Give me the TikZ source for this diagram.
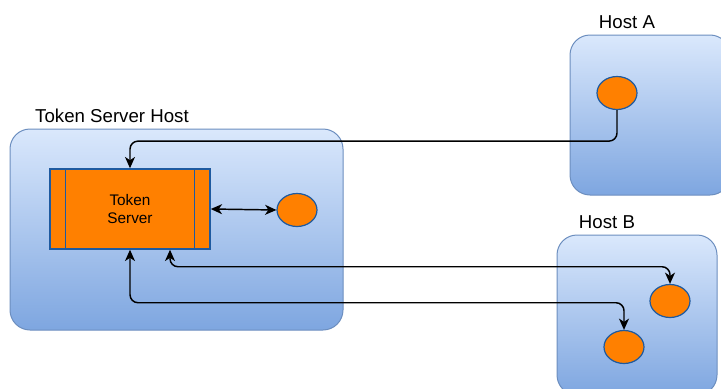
\documentclass[tikz,border=0pt]{standalone}
\usepackage{fontspec}
\setmainfont{Liberation Sans}
\usetikzlibrary{arrows.meta,calc,shapes.geometric}

\definecolor{hosttop}{HTML}{DAE8FC}
\definecolor{hostbottom}{HTML}{7EA6E0}
\definecolor{hostline}{HTML}{6C8EBF}
\definecolor{procfill}{HTML}{FF8000}
\definecolor{procline}{HTML}{1E5AA0}

\begin{document}
\begin{tikzpicture}[x=0.75pt,y=-0.75pt,>={Stealth[length=8.5pt,width=7.5pt,inset=2.5pt]},
  host/.style={draw=hostline,line width=0.75pt,rounded corners=15pt,
    top color=hosttop,bottom color=hostbottom,inner sep=0pt},
  hostlabel/.style={font=\fontsize{14}{16}\selectfont},
  proc/.style={draw=procline,fill=procfill,line width=1.1pt,minimum width=120pt,
    minimum height=60pt,inner sep=0pt,align=center,
    font=\fontsize{11.5}{13.5}\selectfont},
  task/.style={ellipse,draw=procline,fill=procfill,line width=0.9pt,
    minimum width=30pt,minimum height=24.75pt,inner sep=0pt},
  link/.style={line width=1.1pt,rounded corners=6pt}]
  \clip (0,0) rectangle (721,389);

  % hosts
  \node[host,minimum width=249.75pt,minimum height=150.75pt] (tsh) at (176.5,229.5) {};
  \node[host,minimum width=120pt,minimum height=120pt] (ha) at (650,115) {};
  \node[host,minimum width=120pt,minimum height=120pt] (hb) at (637,315) {};

  \node[hostlabel] (tshlabel) at (112,116) {Token Server Host};
  \node[hostlabel] (halabel) at (627,22) {Host A};
  \node[hostlabel] (hblabel) at (607,222) {Host B};

  % token server
  \node[proc] (ts) at (130,209) {Token\\Server};
  \draw[procline,line width=1.1pt] ($(ts.north west)+(16,0)$) -- ($(ts.south west)+(16,0)$);
  \draw[procline,line width=1.1pt] ($(ts.north east)+(-16,0)$) -- ($(ts.south east)+(-16,0)$);

  \node[task] (ets) at (297,210) {};
  \node[task] (ea) at (617,93) {};
  \node[task] (eb1) at (670,301) {};
  \node[task] (eb2) at (624,347) {};

  % connectors
  \draw[link,<->] (ts.east) -- (ets.west);
  \draw[link,->] (ea.south) -- ++(0,31) -| (ts.north);
  \draw[link,<->] ($(ts.south)+(40,0)$) -- ++(0,17) -| (eb1.north);
  \draw[link,<->] (ts.south) -- ++(0,53) -| (eb2.north);
\end{tikzpicture}
\end{document}
